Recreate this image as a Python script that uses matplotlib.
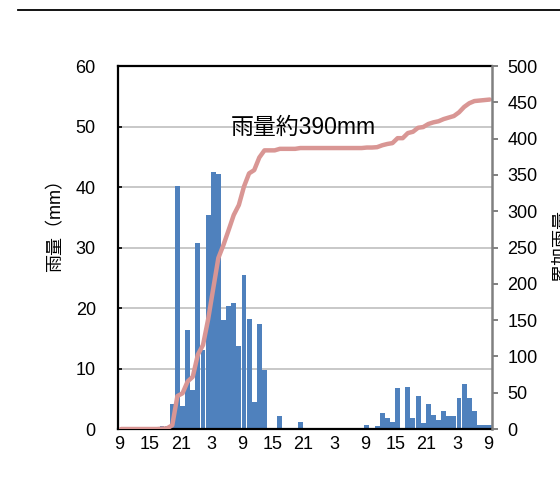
import numpy as np
import matplotlib
matplotlib.use("Agg")
import matplotlib.pyplot as plt
from matplotlib.lines import Line2D

plt.rcParams["font.family"] = ["Liberation Sans", "Noto Sans CJK JP"]

# Hourly rainfall (mm), one value per hour starting at 9:00 on day 1
rain = [
    0, 0, 0, 0, 0, 0, 0, 0,
    0.5, 0.5, 4.2, 40.2, 3.8, 16.3, 6.4, 30.7,
    13.0, 35.4, 42.5, 42.1, 18.0, 20.3, 20.8, 13.8,
    25.4, 18.2, 4.5, 17.4, 9.8, 0, 0, 2.1,
    0, 0, 0, 1.1, 0, 0, 0, 0,
    0, 0, 0, 0, 0, 0, 0, 0,
    0.7, 0, 0.5, 2.6, 1.8, 1.2, 6.8, 0,
    7.0, 1.8, 5.5, 1.0, 4.2, 2.3, 1.5, 3.0,
    2.1, 2.1, 5.1, 7.4, 5.1, 3.0, 0.7, 0.7,
    0.7,
]
hour_labels = ["9", "15", "21", "3", "9", "15", "21", "3", "9", "15", "21", "3", "9"]
total_label = "雨量約390mm"

W, H = 560, 486
fig = plt.figure(figsize=(W / 100, H / 100), dpi=100)
ax = fig.add_axes([118 / W, 1 - 429 / H, (492 - 118) / W, (429 - 66) / H])

x = np.arange(len(rain)) + 0.35
ax.bar(x, rain, width=0.96, color="#4F81BD", linewidth=0, zorder=2)
ax.set_xlim(-0.25, 72.79)
ax.set_ylim(0, 60)
ax.set_yticks(np.arange(0, 61, 10))
ax.set_axisbelow(True)
ax.yaxis.grid(True, color="#BFBFBF", linewidth=1.2)
ax.set_xticks(np.arange(0, len(rain), 6))
ax.set_xticklabels(hour_labels)
ax.tick_params(axis="x", length=0, pad=5, labelsize=13)
ax.tick_params(axis="y", direction="in", length=3, width=1.2, pad=16, labelsize=13)
for side in ("left", "bottom", "top"):
    ax.spines[side].set_color("black")
    ax.spines[side].set_linewidth(1.6)
ax.spines["right"].set_visible(False)

ax2 = ax.twinx()
ax2.plot(x, np.cumsum(rain), color="#D99694", linewidth=3.2,
         solid_capstyle="round", solid_joinstyle="round")
ax2.set_ylim(0, 500)
ax2.set_yticks(np.arange(0, 501, 50))
ax2.tick_params(axis="y", direction="out", length=4, width=1.4, color="#808080",
                pad=7, labelsize=13)
for side in ("left", "bottom", "top"):
    ax2.spines[side].set_visible(False)
ax2.spines["right"].set_color("#808080")
ax2.spines["right"].set_linewidth(1.8)

ax.text(21.76, 49.8, total_label, fontsize=16.5, ha="left", va="center", zorder=5)

fig.text(56 / W, 1 - 221 / H, "雨量（mm）", rotation=90, fontsize=13,
         ha="center", va="center")
fig.text(561 / W, 1 - 246 / H, "累加雨量", rotation=90, fontsize=13,
         ha="center", va="center")

fig.add_artist(Line2D([18 / W, 1], [1 - 10 / H, 1 - 10 / H], color="black",
                      linewidth=1.3))

fig.savefig("out.png", dpi=100)
